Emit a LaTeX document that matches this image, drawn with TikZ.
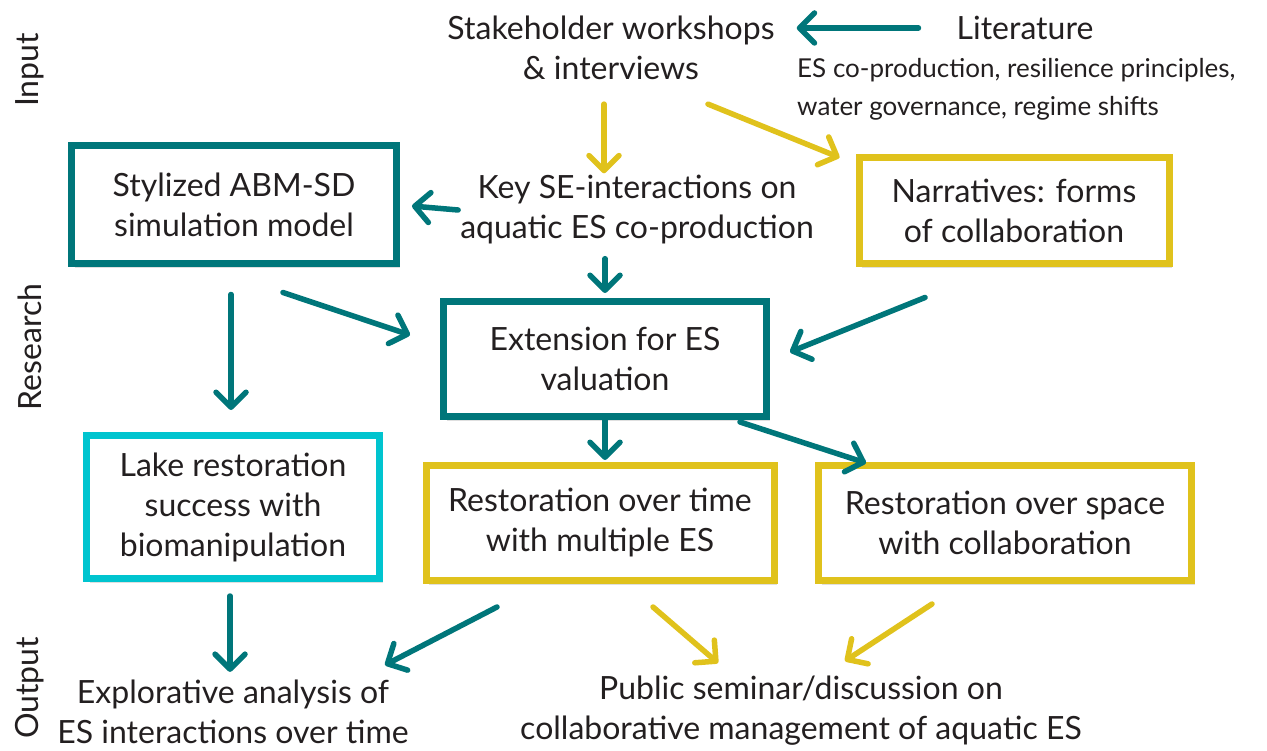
\documentclass[tikz,border=0pt]{standalone}
\usepackage{fontspec}
\setmainfont{Lato}
\usepackage{tikz}
\usetikzlibrary{positioning}
\usetikzlibrary{arrows.meta}
\usetikzlibrary{shadows}

\definecolor{esteal}{RGB}{0,118,122}
\definecolor{esyellow}{RGB}{224,194,28}
\definecolor{escyan}{RGB}{0,196,207}
\definecolor{estext}{RGB}{35,31,32}

\tikzset{
  lbl/.style={align=center, text=estext, inner sep=2pt, font=\fontsize{32}{40}\selectfont},
  sublbl/.style={align=left, text=estext, inner sep=2pt, font=\fontsize{26}{38}\selectfont},
  box/.style={lbl, draw, fill=white, line width=7pt,
    drop shadow={opacity=0.25, shadow xshift=3pt, shadow yshift=-4pt}},
  tealbox/.style={box, draw=esteal},
  yellowbox/.style={box, draw=esyellow},
  cyanbox/.style={box, draw=escyan},
  arr/.style={line width=5.5pt, line cap=round, -{Straight Barb[length=15pt,width=30pt,round]}},
  tealarr/.style={arr, draw=esteal},
  yellowarr/.style={arr, draw=esyellow}
}

\begin{document}
\begin{tikzpicture}[x=1pt, y=-1pt]
				\useasboundingbox (0,0) rectangle (1267,751);
				% phase labels
				\node[lbl, rotate=90] (input) at (30,70) {Input};
				\node[lbl, rotate=90] (research) at (30,347) {Research};
				\node[lbl, rotate=90] (output) at (30,688) {Output};
				
				\node[lbl] (stake) at (611,48) {Stakeholder workshops\\\& interviews};
				\node[lbl] (lit) at (1025,28) {Literature};
				\node[sublbl, anchor=west] (litsub) at (795,89) {ES co-production, resilience principles,\\water governance, regime shifts};
				
				\node[tealbox, minimum width=325, minimum height=118] (abm) at (234,205) {Stylized ABM-SD\\simulation model};
				\node[lbl] (key) at (637,210) {Key SE-interactions on\\aquatic ES co-production};
				\node[yellowbox, minimum width=310, minimum height=106] (narr) at (1014,211) {Narratives: forms\\of collaboration};
				\node[tealbox, minimum width=323, minimum height=115] (ext) at (605,359) {Extension for ES\\valuation};
				
				\node[cyanbox, minimum width=293, minimum height=143] (lake) at (233,507) {Lake restoration\\success with\\biomanipulation};
				\node[yellowbox, minimum width=348, minimum height=115] (rtime) at (600,523) {Restoration over time\\with multiple ES};
				\node[yellowbox, minimum width=373, minimum height=115] (rspace) at (1005,523) {Restoration over space\\with collaboration};
				
				\node[lbl] (explo) at (233,712) {Explorative analysis of\\ES interactions over time};
				\node[lbl] (public) at (801,711) {Public seminar/discussion on\\collaborative management of aquatic ES};
				
				\draw[tealarr, shorten <=36pt, shorten >=20pt] (lit.west) -- (lit.west -| stake.east);
				\draw[yellowarr, shorten <=22pt] ([xshift=-7pt]stake.south) -- ([xshift=-7pt]stake.south |- key.north);
				\draw[yellowarr] ([xshift=97pt, yshift=-22pt]stake.south) -- ([xshift=-16pt, yshift=-3pt]narr.north west);
				\draw[tealarr, shorten >=12pt] (key.west) -- (abm.east);
				\draw[tealarr, shorten <=12pt, shorten >=5pt] (key.south -| ext.north) -- (ext.north);
				\draw[tealarr] ([xshift=-89pt, yshift=-30pt]narr.south) -- ([xshift=20pt, yshift=7pt]ext.east);
				\draw[tealarr, shorten <=27pt, shorten >=22pt] ([xshift=-3pt]abm.south) -- ([xshift=-3pt]abm.south |- lake.north);
				\draw[tealarr] ([xshift=49pt, yshift=-25pt]abm.south) -- ([xshift=-30pt, yshift=24pt]ext.west);
				\draw[tealarr, shorten >=2pt] (ext.south) -- (ext.south |- rtime.north);
				\draw[tealarr] ([xshift=-30pt, yshift=-2pt]ext.south east) -- ([xshift=51pt, yshift=-1pt]rspace.north west);
				\draw[tealarr, shorten <=14pt, shorten >=6pt] ([xshift=-3pt]lake.south) -- ([xshift=-3pt]lake.south |- explo.north);
				\draw[tealarr] ([xshift=-103pt, yshift=-23pt]rtime.south) -- ([xshift=152pt, yshift=47pt]explo.center);
				\draw[yellowarr] ([xshift=53pt, yshift=-23pt]rtime.south) -- ([xshift=-83pt, yshift=48pt]public.center);
				\draw[yellowarr] ([xshift=-73pt, yshift=-20pt]rspace.south) -- ([xshift=44pt, yshift=50pt]public.center);
			\end{tikzpicture}
\end{document}
